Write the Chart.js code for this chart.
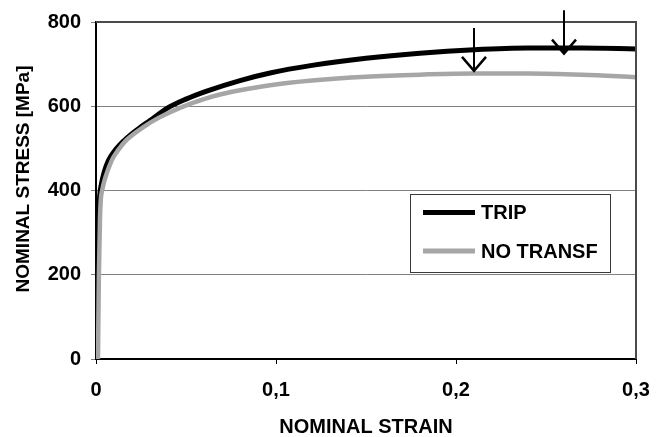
<!DOCTYPE html>
<html><head><meta charset="utf-8">
<script src="https://cdn.jsdelivr.net/npm/chart.js@4/dist/chart.umd.min.js"></script>
<style>html,body{margin:0;padding:0;background:#fff}#wrap{width:664px;height:437px;position:relative}</style>
</head><body><div id="wrap"><canvas id="c" width="664" height="437"></canvas></div>
<script>
// ---- data ----
const seriesNames = ['TRIP', 'NO TRANSF'];
const tripStrain = [0, 0.0008, 0.0014, 0.002, 0.003, 0.0045, 0.0069, 0.01, 0.015, 0.02, 0.025, 0.03, 0.039, 0.05, 0.0615, 0.08, 0.0967, 0.12, 0.15, 0.18, 0.21, 0.24, 0.27, 0.3];
const tripStress = [0, 200, 330, 385, 415, 443, 471, 492, 516, 535, 551, 566, 594, 617, 636, 661, 679, 697, 714, 726, 734, 738, 738, 736];
const noStrain = [0.0011, 0.0016, 0.0022, 0.0027, 0.0035, 0.005, 0.0087, 0.012, 0.017, 0.0272, 0.035, 0.0476, 0.06, 0.07, 0.08, 0.0967, 0.12, 0.15, 0.18, 0.21, 0.24, 0.27, 0.3];
const noStress = [0, 200, 330, 380, 402, 428, 471, 494, 520, 553, 573, 598, 617, 629, 638, 650, 661, 670, 675, 678, 678, 675, 669];
const xTicks = [0, 0.1, 0.2, 0.3];
const xTickLabels = ['0', '0,1', '0,2', '0,3'];
const yTicks = [0, 200, 400, 600, 800];
const arrowStrain = [0.21, 0.26];
const arrowFrom = [786, 828];
const arrowTo = [684, 725];
const xTitle = 'NOMINAL STRAIN';
const yTitle = 'NOMINAL STRESS [MPa]';

const FONT = "'Liberation Sans', Arial, sans-serif";
const toPts = (xs, ys) => xs.map((x, i) => ({x: x, y: ys[i]}));

const decor = {
  id: 'decor',
  afterDraw(chart) {
    const ctx = chart.ctx, a = chart.chartArea, xs = chart.scales.x, ys = chart.scales.y;
    ctx.save();
    // frame top/right
    ctx.strokeStyle = '#4a4a4a'; ctx.lineWidth = 2;
    ctx.beginPath();
    ctx.moveTo(a.left, a.top); ctx.lineTo(a.right, a.top); ctx.lineTo(a.right, a.bottom);
    ctx.stroke();
    // arrows
    ctx.strokeStyle = '#000';
    arrowStrain.forEach((s, i) => {
      const x = xs.getPixelForValue(s);
      const y0 = ys.getPixelForValue(arrowFrom[i]);
      const y1 = ys.getPixelForValue(arrowTo[i]);
      ctx.lineWidth = 2;
      ctx.beginPath(); ctx.moveTo(x, y0); ctx.lineTo(x, y1); ctx.stroke();
      ctx.lineWidth = 2.5;
      ctx.beginPath(); ctx.moveTo(x - 12, y1 - 14); ctx.lineTo(x, y1); ctx.lineTo(x + 12, y1 - 14); ctx.stroke();
    });
    // legend
    ctx.fillStyle = '#fff';
    ctx.fillRect(410, 194, 200, 78);
    ctx.strokeStyle = '#3a3a3a'; ctx.lineWidth = 1;
    ctx.strokeRect(410.5, 194.5, 200, 78);
    const ds = chart.data.datasets;
    const legendItems = [ds.find(d => d.label === seriesNames[0]), ds.find(d => d.label === seriesNames[1])];
    const ly = [212.5, 251];
    legendItems.forEach((d, i) => {
      ctx.strokeStyle = d.borderColor; ctx.lineWidth = 5;
      ctx.beginPath(); ctx.moveTo(423, ly[i]); ctx.lineTo(475, ly[i]); ctx.stroke();
      ctx.fillStyle = '#000'; ctx.font = 'bold 20px ' + FONT;
      ctx.textBaseline = 'middle'; ctx.textAlign = 'left';
      ctx.fillText(d.label, 481, ly[i] + 1);
    });
    // axis titles
    ctx.fillStyle = '#000';
    ctx.font = 'bold 20px ' + FONT;
    ctx.textAlign = 'center'; ctx.textBaseline = 'middle';
    ctx.fillText(xTitle, 366, 427);
    ctx.translate(24, 179);
    ctx.rotate(-Math.PI / 2);
    ctx.font = 'bold 19px ' + FONT;
    ctx.fillText(yTitle, 0, 0);
    ctx.restore();
  }
};

new Chart(document.getElementById('c'), {
  type: 'line',
  data: {
    datasets: [
      {label: seriesNames[0], data: toPts(tripStrain, tripStress), borderColor: '#000000', borderWidth: 5, pointRadius: 0, cubicInterpolationMode: 'monotone', fill: false, order: 1},
      {label: seriesNames[1], data: toPts(noStrain, noStress), borderColor: '#a6a6a6', borderWidth: 4.5, pointRadius: 0, cubicInterpolationMode: 'monotone', fill: false, order: 0}
    ]
  },
  options: {
    responsive: false, animation: false, devicePixelRatio: 1,
    layout: {padding: {left: 0, right: 28, top: 21, bottom: 0}},
    plugins: {legend: {display: false}, tooltip: {enabled: false}},
    scales: {
      x: {
        type: 'linear', min: 0, max: 0.3,
        afterBuildTicks: s => { s.ticks = xTicks.map(v => ({value: v})); },
        afterFit: s => { s.height = 78; },
        ticks: {callback: (v, i) => xTickLabels[i], font: {family: FONT, size: 20, weight: 'bold'}, color: '#000', maxRotation: 0, padding: 14},
        grid: {drawOnChartArea: false, drawTicks: true, tickLength: 5, color: '#000'},
        border: {color: '#000', width: 2}
      },
      y: {
        type: 'linear', min: 0, max: 800,
        afterBuildTicks: s => { s.ticks = yTicks.map(v => ({value: v})); },
        afterFit: s => { s.width = 96; },
        ticks: {font: {family: FONT, size: 20, weight: 'bold'}, color: '#000', padding: 10},
        grid: {color: '#808080', lineWidth: 1, tickLength: 5, drawTicks: true},
        border: {color: '#000', width: 2}
      }
    }
  },
  plugins: [decor]
});
</script>
</body></html>
